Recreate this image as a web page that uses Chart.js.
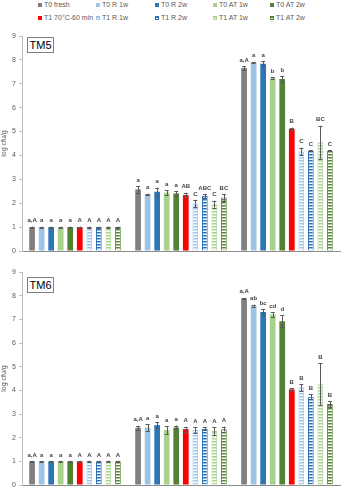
<!DOCTYPE html>
<html>
<head>
<meta charset="utf-8">
<script src="https://cdn.jsdelivr.net/npm/chart.js@4/dist/chart.umd.min.js"></script>
<style>
    body { margin: 0; background: #fff; font-family: "Liberation Sans", Arial, sans-serif; }
    #wrap { position: relative; width: 341px; height: 500px; overflow: hidden; }
    .chart-box { position: absolute; left: 0; width: 341px; }
    .legend-item { position: absolute; font-size: 7px; color: #595959; white-space: nowrap; line-height: 8px; }
    .legend-item i { display: inline-block; width: 4px; height: 4px; margin-right: 2px; vertical-align: 0; box-sizing: border-box; }
    .panel-tag { position: absolute; left: 27px; width: 27px; height: 16px; box-sizing: border-box; border: 1px solid #7f7f7f; font-size: 11px; line-height: 14px; text-align: center; color: #000; background: #fff; }
</style>
</head>
<body>
<div id="wrap">
    <div id="legend"></div>
    <div class="chart-box" style="top:28px;height:236px"><canvas id="chartTM5"></canvas></div>
    <div class="chart-box" style="top:264px;height:236px"><canvas id="chartTM6"></canvas></div>
    <div class="panel-tag" style="top:37px">TM5</div>
    <div class="panel-tag" style="top:277px">TM6</div>
</div>
<script>
// groups on the x axis
const categories = ['E. coli', 'Aerobic endospores', 'Enterococci'];

// treatments (one bar per treatment in every group)
const treatments = ['T0 fresh', 'T0 R 1w', 'T0 R 2w', 'T0 AT 1w', 'T0 AT 2w',
                    'T1 70°C-60 min', 'T1 R 1w', 'T1 R 2w', 'T1 AT 1w', 'T1 AT 2w'];
const colors = ['#7f7f7f', '#9dc3e6', '#2e75b6', '#a9d18e', '#548235',
                '#ff0000', '#9dc3e6', '#2e75b6', '#a9d18e', '#548235'];
const striped = [false, false, false, false, false, false, true, true, true, true];

const yTicks = [0, 1, 2, 3, 4, 5, 6, 7, 8, 9];

// TM5: mean log cfu/g, one row per group
const tm5Mean = [
    [1.00, 1.00, 1.00, 1.00, 1.00, 1.00, 1.00, 1.00, 1.00, 1.00],
    [2.58, 2.37, 2.48, 2.44, 2.41, 2.34, 1.99, 2.31, 1.96, 2.24],
    [7.66, 7.90, 7.84, 7.23, 7.20, 5.11, 4.16, 4.20, 4.55, 4.20]
];
const tm5Err = [
    [0.02, 0.02, 0.02, 0.02, 0.02, 0.02, 0.02, 0.02, 0.02, 0.02],
    [0.14, 0.03, 0.17, 0.10, 0.10, 0.10, 0.15, 0.08, 0.15, 0.14],
    [0.07, 0.02, 0.10, 0.04, 0.13, 0.05, 0.16, 0.02, 0.69, 0.02]
];
const tm5Letters = [
    ['a,A', 'a', 'a', 'a', 'a', 'A', 'A', 'A', 'A', 'A'],
    ['a', 'a', 'a', 'a', 'a', 'AB', 'C', 'ABC', 'C', 'BC'],
    ['a,A', 'a', 'a', 'b', 'b', 'B', 'C', 'C', 'BC', 'C']
];

// TM6
const tm6Mean = [
    [1.00, 1.00, 1.00, 1.00, 1.00, 1.00, 1.00, 1.00, 1.00, 1.00],
    [2.42, 2.42, 2.53, 2.32, 2.43, 2.36, 2.32, 2.38, 2.28, 2.36],
    [7.88, 7.57, 7.31, 7.20, 6.92, 4.04, 4.12, 3.73, 4.26, 3.42]
];
const tm6Err = [
    [0.02, 0.02, 0.02, 0.02, 0.02, 0.02, 0.02, 0.02, 0.02, 0.02],
    [0.08, 0.14, 0.12, 0.17, 0.08, 0.10, 0.12, 0.07, 0.17, 0.10],
    [0.03, 0.05, 0.12, 0.10, 0.25, 0.05, 0.15, 0.10, 0.88, 0.12]
];
const tm6Letters = [
    ['a,A', 'a', 'a', 'a', 'a', 'A', 'A', 'A', 'A', 'A'],
    ['a,A', 'a', 'a', 'a', 'a', 'A', 'A', 'A', 'A', 'A'],
    ['a,A', 'ab', 'bc', 'cd', 'd', 'B', 'B', 'B', 'B', 'B']
];

const textColor = '#595959';
const fontFamily = '"Liberation Sans", Arial, sans-serif';

// horizontal stripes for the T1 storage bars
function stripePattern(color) {
    const c = document.createElement('canvas');
    c.width = 4;
    c.height = 3;
    const g = c.getContext('2d');
    g.fillStyle = '#ffffff';
    g.fillRect(0, 0, 4, 3);
    g.fillStyle = color;
    g.fillRect(0, 0, 4, 1.5);
    return g.createPattern(c, 'repeat');
}

function buildLegend() {
    const cols = [38, 96, 155, 213, 270];
    const rows = [1, 14];
    const box = document.getElementById('legend');
    treatments.forEach((name, i) => {
        const item = document.createElement('div');
        item.className = 'legend-item';
        item.style.left = cols[i % 5] + 'px';
        item.style.top = rows[Math.floor(i / 5)] + 'px';
        const sw = document.createElement('i');
        if (striped[i]) {
            sw.style.border = '0.6px solid ' + colors[i];
            sw.style.background = `repeating-linear-gradient(to bottom, ${colors[i]} 0 1px, #fff 1px 2px)`;
        } else {
            sw.style.background = colors[i];
        }
        item.appendChild(sw);
        item.appendChild(document.createTextNode(name));
        box.appendChild(item);
    });
}

// error bars and significance letters above each bar
const errorBarPlugin = {
    id: 'errorBars',
    afterDatasetsDraw(chart, args, opts) {
        const ctx = chart.ctx;
        const y = chart.scales.y;
        ctx.save();
        chart.data.datasets.forEach((ds, i) => {
            const meta = chart.getDatasetMeta(i);
            meta.data.forEach((bar, j) => {
                const v = ds.data[j];
                const e = opts.err[j][i];
                const top = y.getPixelForValue(v + e);
                const bot = y.getPixelForValue(v - e);
                ctx.strokeStyle = '#595959';
                ctx.lineWidth = 1;
                ctx.beginPath();
                ctx.moveTo(Math.round(bar.x) + 0.5, top);
                ctx.lineTo(Math.round(bar.x) + 0.5, bot);
                ctx.moveTo(bar.x - 2, Math.round(top) + 0.5);
                ctx.lineTo(bar.x + 2, Math.round(top) + 0.5);
                ctx.moveTo(bar.x - 2, Math.round(bot) + 0.5);
                ctx.lineTo(bar.x + 2, Math.round(bot) + 0.5);
                ctx.stroke();

                ctx.fillStyle = '#404040';
                ctx.font = 'bold 6px ' + fontFamily;
                ctx.textAlign = 'center';
                ctx.textBaseline = 'bottom';
                ctx.fillText(opts.letters[j][i], bar.x, Math.min(top, bar.y) - 3);
            });
        });
        ctx.restore();
    }
};

function makeChart(id, means, errs, letters, xHeight, xPad) {
    const datasets = treatments.map((name, i) => ({
        label: name,
        data: means.map(row => row[i]),
        backgroundColor: striped[i] ? stripePattern(colors[i]) : colors[i],
        borderColor: colors[i],
        borderWidth: striped[i] ? 1 : 0,
        categoryPercentage: 0.9,
        barPercentage: 0.6
    }));

    return new Chart(document.getElementById(id), {
        type: 'bar',
        data: { labels: categories, datasets: datasets },
        options: {
            responsive: true,
            maintainAspectRatio: false,
            animation: false,
            layout: { padding: { top: 8, right: 1, left: 0, bottom: 0 } },
            plugins: {
                legend: { display: false },
                tooltip: { enabled: false },
                errorBars: { err: errs, letters: letters }
            },
            scales: {
                x: {
                    grid: { display: false },
                    border: { display: true, color: '#8c8c8c', width: 1 },
                    ticks: { color: textColor, padding: xPad, font: { size: 7, family: fontFamily } },
                    afterFit: (s) => { s.height = xHeight; }
                },
                y: {
                    min: 0,
                    max: 9,
                    afterBuildTicks: (s) => { s.ticks = yTicks.map(v => ({ value: v })); },
                    grid: { display: true, drawOnChartArea: false, drawTicks: true, tickLength: 3, color: '#bfbfbf' },
                    border: { display: true, color: '#bfbfbf', width: 1 },
                    ticks: { color: textColor, padding: 3, font: { size: 7, family: fontFamily } },
                    title: { display: true, text: 'log cfu/g', color: textColor, padding: 0, font: { size: 7, family: fontFamily } },
                    afterFit: (s) => { s.width = 22; }
                }
            }
        },
        plugins: [errorBarPlugin]
    });
}

buildLegend();
makeChart('chartTM5', tm5Mean, tm5Err, tm5Letters, 13, 5);
makeChart('chartTM6', tm6Mean, tm6Err, tm6Letters, 15, 6);
</script>
</body>
</html>
